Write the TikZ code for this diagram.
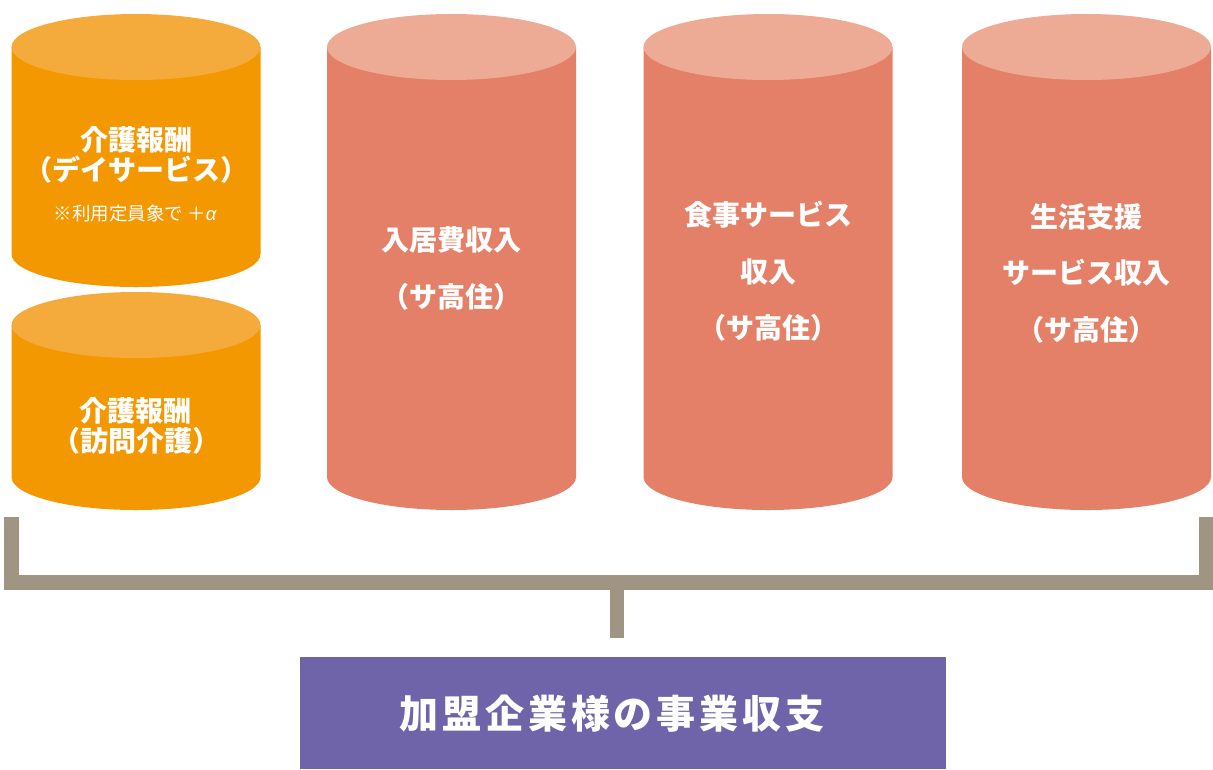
\documentclass[tikz,border=0pt]{standalone}
\usepackage{fontspec}
\setmainfont{Noto Sans CJK JP}
\newfontfamily\spaced{Noto Sans CJK JP}[LetterSpace=10]
\newfontfamily\greekit{Liberation Sans}
\definecolor{kaigo}{HTML}{F39800}
\definecolor{kaigotop}{HTML}{F5AB3B}
\definecolor{sako}{HTML}{E58068}
\definecolor{sakotop}{HTML}{EDAA94}
\definecolor{bracket}{HTML}{A09482}
\definecolor{total}{HTML}{6F63A9}

% barrel: centre x, top y, bottom y, body colour, lid colour
\newcommand{\barrel}[5]{%
  \fill[#4] (#1-124.5,#2) -- (#1-124.5,#3)
    arc[start angle=180,end angle=360,x radius=124.5pt,y radius=33pt]
    -- (#1+124.5,#2) -- cycle;
  \fill[#5] (#1,#2) ellipse[x radius=124.5pt,y radius=33pt];}

\begin{document}
\begin{tikzpicture}[x=1pt,y=-1pt]
      \useasboundingbox (0,0) rectangle (1213,769);

      \barrel{136}{47}{254}{kaigo}{kaigotop}
      \barrel{136}{325}{477}{kaigo}{kaigotop}
      \barrel{451.5}{47}{477}{sako}{sakotop}
      \barrel{768}{47}{477}{sako}{sakotop}
      \barrel{1086.5}{47}{477}{sako}{sakotop}

      \begin{scope}[every node/.style={text=white,align=center,inner sep=0pt,
          font=\bfseries\fontsize{28}{30}\selectfont}]
        \node (day)   at (136,155)   {介護報酬\\（デイサービス）};
        \node (visit) at (136,426)   {介護報酬\\（訪問介護）};
      \end{scope}
      \node[text=white,inner sep=0pt,font=\fontsize{18.5}{20}\selectfont]
        (note) at (135,213) {※利用定員象で ＋{\greekit\itshape α}};

      \begin{scope}[every node/.style={text=white,align=center,inner sep=0pt,
          font=\bfseries\fontsize{28}{56.5}\selectfont}]
        \node (rent)  at (451.5,268.5) {入居費収入\\（サ高住）};
        \node (meal)  at (768,271.5)   {食事サービス\\収入\\（サ高住）};
        \node (life)  at (1086.5,273)  {生活支援\\サービス収入\\（サ高住）};
      \end{scope}

      \coordinate (l)   at (11.7,517);
      \coordinate (r)   at (1206,517);
      \coordinate (hub) at (617,582.5);
      \coordinate (s)   at (617,638);
      \draw[bracket,line width=15pt,miter limit=4] (l) |- (hub) -| (r);
      \draw[bracket,line width=14.5pt] (hub) -- (s);

      \node[fill=total,minimum width=646pt,minimum height=112pt,inner sep=0pt]
        (sum) at (623,713) {};
      \node[text=white,inner sep=0pt,font=\spaced\bfseries\fontsize{39}{41}\selectfont]
        (sumtext) at (612,714) {加盟企業様の事業収支};

    \end{tikzpicture}
\end{document}
